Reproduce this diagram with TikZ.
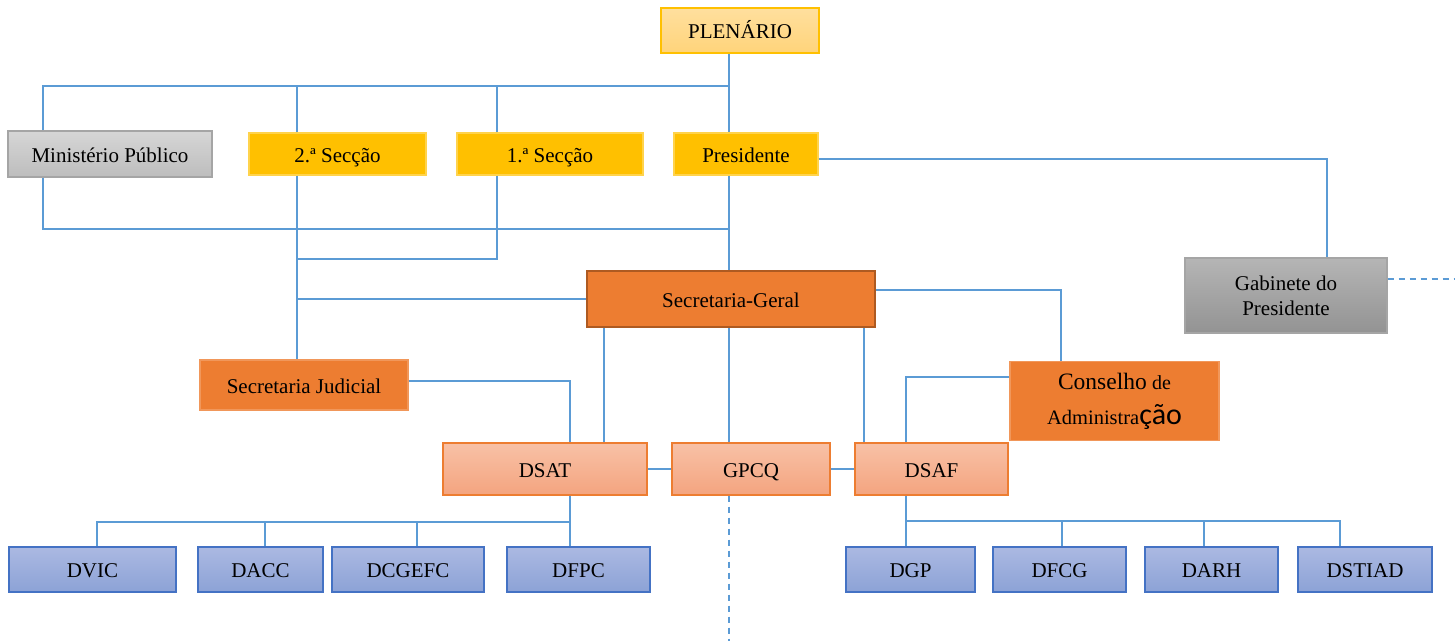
\documentclass[tikz,border=0pt]{standalone}
\usepackage{fontspec}
\setmainfont{Liberation Serif}
\newfontfamily\carl{Carlito}
\definecolor{lnblue}{HTML}{5B9BD5}
\definecolor{yel}{HTML}{FFC000}
\definecolor{plentop}{HTML}{FFDF9E}
\definecolor{plenbot}{HTML}{FFD47A}
\definecolor{gAtop}{HTML}{D6D6D6}
\definecolor{gAbot}{HTML}{BDBDBD}
\definecolor{gAbd}{HTML}{A5A5A5}
\definecolor{gBtop}{HTML}{B5B5B5}
\definecolor{gBbot}{HTML}{939393}
\definecolor{org}{HTML}{ED7D31}
\definecolor{orgdk}{HTML}{AE5A21}
\definecolor{saltop}{HTML}{F8C1A6}
\definecolor{salbot}{HTML}{F4A47F}
\definecolor{bltop}{HTML}{ABB9E2}
\definecolor{blbot}{HTML}{8CA2D6}
\definecolor{blbd}{HTML}{4472C4}
\tikzset{
  box/.style={inner sep=2pt, align=center, text=black, line width=1.2pt,
    font=\fontsize{21}{25}\selectfont},
  one/.style={text height=16pt, text depth=0pt},
  yelbox/.style={box, one, fill=yel, draw=yel!70!white},
  plenbox/.style={box, one, top color=plentop, bottom color=plenbot, draw=yel},
  grayA/.style={box, one, top color=gAtop, bottom color=gAbot, draw=gAbd},
  grayB/.style={box, top color=gBtop, bottom color=gBbot, draw=gAbd},
  orgbox/.style={box, fill=org, draw=org!80!white},
  sgbox/.style={box, one, fill=org, draw=orgdk, line width=2.2pt},
  salbox/.style={box, one, top color=saltop, bottom color=salbot, draw=org},
  bluebox/.style={box, one, top color=bltop, bottom color=blbot, draw=blbd, minimum height=45},
  conn/.style={draw=lnblue, line width=1.1pt},
  dconn/.style={conn, dashed, dash pattern=on 6pt off 5pt}
}
\begin{document}
\begin{tikzpicture}[x=1pt, y=-1pt]
\useasboundingbox (0,0) rectangle (1455,641);
% columns
\coordinate (c43) at (43,0);
\coordinate (c97) at (97,0);
\coordinate (c265) at (265,0);
\coordinate (c297) at (297,0);
\coordinate (c417) at (417,0);
\coordinate (c497) at (497,0);
\coordinate (c570) at (570,0);
\coordinate (c604) at (604,0);
\coordinate (c729) at (729,0);
\coordinate (c864) at (864,0);
\coordinate (c906) at (906,0);
\coordinate (c1061) at (1061,0);
\coordinate (c1062) at (1062,0);
\coordinate (c1204) at (1204,0);
\coordinate (c1327) at (1327,0);
\coordinate (c1340) at (1340,0);
\coordinate (bus1) at (729,86);
\coordinate (bus2) at (729,229);
\coordinate (bus3) at (297,259);
\coordinate (busL) at (570,522);
\coordinate (busR) at (906,521);
\coordinate (gd) at (1455,279);
\coordinate (gpend) at (729,641);

% nodes
\node[plenbox, minimum width=158, minimum height=45] (plen) at (740,30.5) {PLENÁRIO};
\node[grayA, minimum width=204, minimum height=46] (mp) at (110,154) {Ministério Público};
\node[yelbox, minimum width=177, minimum height=42] (s2) at (337.5,154) {2.ª Secção};
\node[yelbox, minimum width=186, minimum height=42] (s1) at (550,154) {1.ª Secção};
\node[yelbox, minimum width=144, minimum height=42] (pres) at (746,154) {Presidente};
\node[grayB, minimum width=202, minimum height=75] (gab) at (1286,295.5) {Gabinete do\\Presidente};
\node[sgbox, minimum width=288, minimum height=56] (sg) at (731,299) {Secretaria-Geral};
\node[orgbox, one, minimum width=208, minimum height=50] (sj) at (304,385) {Secretaria Judicial};
\node[orgbox, minimum width=209, minimum height=79, font=\fontsize{21}{35}\selectfont] (ca) at (1114.5,401)
  {{\fontsize{23.5}{35}\selectfont Conselho} {\fontsize{20}{35}\selectfont de}\\{\fontsize{20.5}{35}\selectfont Administra}{\carl\fontsize{30}{35}\selectfont ção}};
\node[salbox, minimum width=204, minimum height=52] (dsat) at (545,469) {DSAT};
\node[salbox, minimum width=158, minimum height=52] (gpcq) at (751,469) {GPCQ};
\node[salbox, minimum width=153, minimum height=52] (dsaf) at (931.5,469) {DSAF};
\node[bluebox, minimum width=167] (dvic) at (92.5,569.5) {DVIC};
\node[bluebox, minimum width=125] (dacc) at (260.5,569.5) {DACC};
\node[bluebox, minimum width=152] (dcgefc) at (408,569.5) {DCGEFC};
\node[bluebox, minimum width=143] (dfpc) at (578.5,569.5) {DFPC};
\node[bluebox, minimum width=129] (dgp) at (910.5,569.5) {DGP};
\node[bluebox, minimum width=133] (dfcg) at (1059.5,569.5) {DFCG};
\node[bluebox, minimum width=133] (darh) at (1211.5,569.5) {DARH};
\node[bluebox, minimum width=134] (dstiad) at (1365,569.5) {DSTIAD};

% connectors
\draw[conn] (plen.south -| c729) -- (pres.north -| c729);
\draw[conn] (mp.north -| c43) |- (bus1);
\draw[conn] (s2.north -| c297) -- (c297 |- bus1);
\draw[conn] (s1.north -| c497) -- (c497 |- bus1);
\draw[conn] (mp.south -| c43) |- (bus2);
\draw[conn] (pres.south -| c729) -- (sg.north -| c729);
\draw[conn] (s2.south -| c297) -- (sj.north -| c297);
\draw[conn] (s1.south -| c497) |- (bus3);
\draw[conn] (sg.west) -- (sg.west -| c297);
\draw[conn] ([yshift=-5pt]pres.east) -| (gab.north -| c1327);
\draw[dconn] (gab.east |- gd) -- (gd);
\draw[conn] ([yshift=9pt]sg.east) -| (ca.north -| c1061);
\draw[conn] ([yshift=4pt]sj.east) -| (dsat.north -| c570);
\draw[conn] (sg.south -| c604) -- (dsat.north -| c604);
\draw[conn] (sg.south -| c729) -- (gpcq.north -| c729);
\draw[conn] (sg.south -| c864) -- (dsaf.north -| c864);
\draw[conn] ([yshift=24pt]ca.west) -| (dsaf.north -| c906);
\draw[conn] (dsat.east) -- (gpcq.west);
\draw[conn] (gpcq.east) -- (dsaf.west);
\draw[dconn] (gpcq.south -| c729) -- (gpend);
\draw[conn] (dsat.south -| c570) -- (dfpc.north -| c570);
\draw[conn] (dvic.north -| c97) |- (busL);
\draw[conn] (dacc.north -| c265) -- (c265 |- busL);
\draw[conn] (dcgefc.north -| c417) -- (c417 |- busL);
\draw[conn] (dsaf.south -| c906) -- (dgp.north -| c906);
\draw[conn] (busR) -| (dstiad.north -| c1340);
\draw[conn] (dfcg.north -| c1062) -- (c1062 |- busR);
\draw[conn] (darh.north -| c1204) -- (c1204 |- busR);
\end{tikzpicture}
\end{document}
